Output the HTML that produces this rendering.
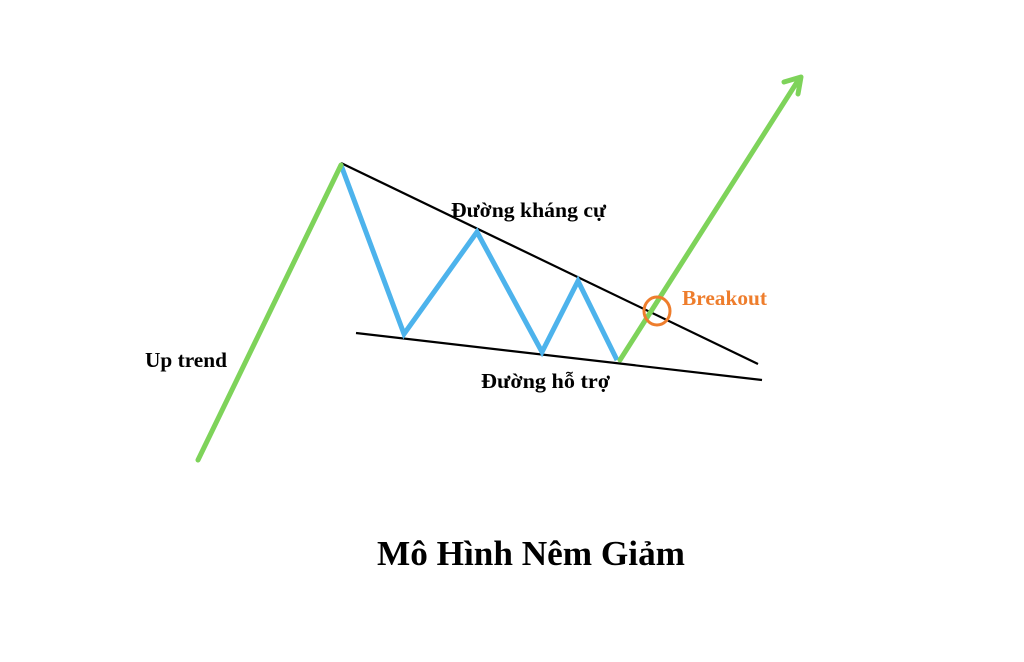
<!DOCTYPE html>
<html><head><meta charset="utf-8"><style>
html,body{margin:0;padding:0;background:#fff;}
svg{display:block}
text{font-family:"Liberation Serif",serif;font-weight:bold;}
</style></head><body>
<svg width="1024" height="662" viewBox="0 0 1024 662" xmlns="http://www.w3.org/2000/svg">
<rect width="1024" height="662" fill="#fff"/>
<line x1="341" y1="163" x2="758" y2="364" stroke="#000" stroke-width="2.2"/>
<line x1="356" y1="333" x2="762" y2="380" stroke="#000" stroke-width="2.2"/>
<polyline points="341,165 404,334 477,232 542,352 578,281 617,360" fill="none" stroke="#4db3ec" stroke-width="5" stroke-linejoin="miter"/>
<line x1="198" y1="460" x2="341" y2="165" stroke="#7ed35a" stroke-width="5" stroke-linecap="round"/>
<line x1="620" y1="360" x2="799" y2="79" stroke="#7ed35a" stroke-width="5" stroke-linecap="round"/>
<polyline points="784,82 801,77 798,94" fill="none" stroke="#7ed35a" stroke-width="5" stroke-linecap="round" stroke-linejoin="round"/>
<ellipse cx="657" cy="311" rx="13" ry="14" fill="none" stroke="#ee7d2c" stroke-width="3"/>
<text x="451" y="217" font-size="21.5" textLength="155" lengthAdjust="spacingAndGlyphs">Đường kháng cự</text>
<text x="682" y="305" font-size="21.5" fill="#ee7d2c" textLength="85" lengthAdjust="spacingAndGlyphs">Breakout</text>
<text x="145" y="367" font-size="21.5" textLength="82" lengthAdjust="spacingAndGlyphs">Up trend</text>
<text x="481" y="388" font-size="21.5" textLength="129" lengthAdjust="spacingAndGlyphs">Đường hỗ trợ</text>
<text x="377" y="565" font-size="35" textLength="308" lengthAdjust="spacingAndGlyphs">Mô Hình Nêm Giảm</text>
</svg>
</body></html>
